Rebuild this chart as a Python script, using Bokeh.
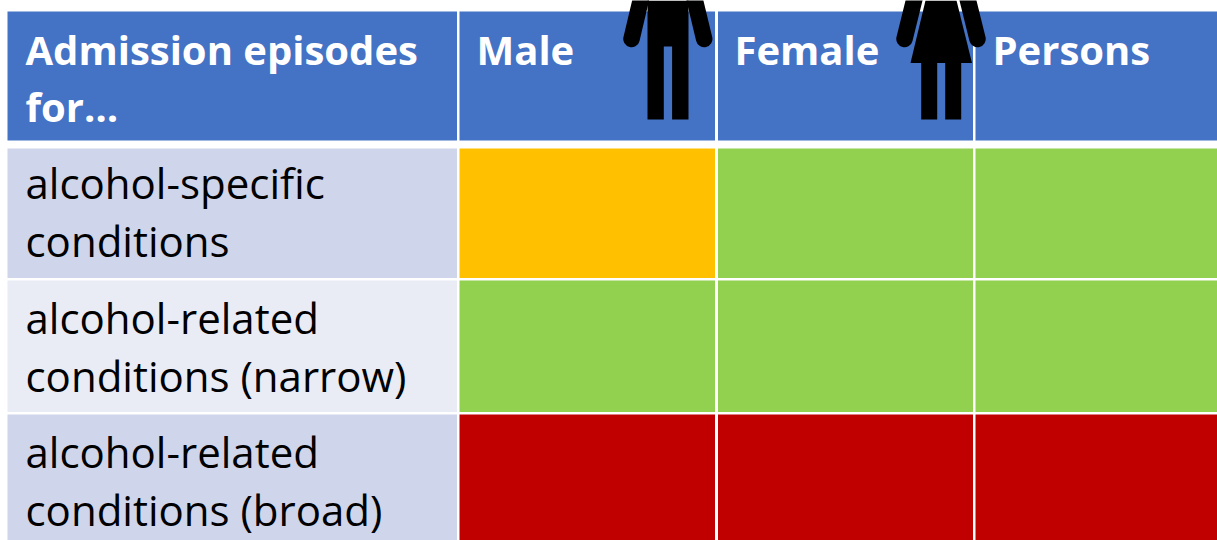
from bokeh.plotting import figure
from bokeh.models import Range1d
from bokeh.core.properties import value
from bokeh.embed import file_html
from bokeh.resources import INLINE

# Table content
header_labels = ["Admission episodes\nfor…", "Male", "Female", "Persons"]
row_labels = ["alcohol-specific\nconditions",
              "alcohol-related\nconditions (narrow)",
              "alcohol-related\nconditions (broad)"]
male_status = ["amber", "green", "red"]
female_status = ["green", "green", "red"]
persons_status = ["green", "green", "red"]

# Styles
STATUS_COLOURS = {"amber": "#FFC000", "green": "#92D050", "red": "#C00000"}
HEADER_COLOUR = "#4472C4"
BAND_COLOURS = ["#CFD5EA", "#E9EBF5", "#CFD5EA"]
FONT = value("Open Sans")

# Layout (page pixels)
COL_EDGES = [(7, 456.5), (459, 714.5), (717.5, 972.5), (975, 1217)]
HEADER_EDGES = (11, 140)
ROW_EDGES = [(148, 277.5), (280, 411.5), (414, 540)]
HEADER_MID = [49, 106]
ROW_MID = [[182, 240], [317, 375], [451, 509]]
TEXT_X = [25, 476, 734, 992]

p = figure(width=1217, height=540, x_range=Range1d(0, 1217), y_range=Range1d(540, 0),
           toolbar_location=None, output_backend="svg", min_border=0)
p.axis.visible = False
p.grid.visible = False
p.outline_line_color = None
p.background_fill_color = "white"
p.border_fill_color = "white"

# Header cells
p.quad(left=[c[0] for c in COL_EDGES], right=[c[1] for c in COL_EDGES],
       top=[HEADER_EDGES[0]] * 4, bottom=[HEADER_EDGES[1]] * 4,
       fill_color=HEADER_COLOUR, line_color=None)

# Row label cells
p.quad(left=[COL_EDGES[0][0]] * 3, right=[COL_EDGES[0][1]] * 3,
       top=[r[0] for r in ROW_EDGES], bottom=[r[1] for r in ROW_EDGES],
       fill_color=BAND_COLOURS, line_color=None)

# Status cells
for col, statuses in enumerate([male_status, female_status, persons_status], start=1):
    p.quad(left=[COL_EDGES[col][0]] * 3, right=[COL_EDGES[col][1]] * 3,
           top=[r[0] for r in ROW_EDGES], bottom=[r[1] for r in ROW_EDGES],
           fill_color=[STATUS_COLOURS[s] for s in statuses], line_color=None)

# Icons
ARM_WIDTH = 16.5
def arms(cx_top_l, cx_bot_l, cx_top_r, cx_bot_r):
    for xs in ([cx_top_l, cx_bot_l], [cx_top_r, cx_bot_r]):
        p.line(xs, [-8, 38.5], line_color="black", line_width=ARM_WIDTH, line_cap="round")

# Male
p.patch([647, 688, 688, 671.6, 671.6, 663.3, 663.3, 647],
        [0, 0, 119, 119, 46, 46, 119, 119], fill_color="black", line_color=None)
arms(642, 631, 692.5, 703.7)

# Female
p.patch([925, 956, 971.5, 910], [0, 0, 62.5, 62.5], fill_color="black", line_color=None)
p.quad(left=[920.7, 944.7], right=[936.7, 960.7], top=[62, 62], bottom=[119, 119],
       fill_color="black", line_color=None)
arms(915.5, 904, 965.5, 977)

# Header text
for lab, x in zip(header_labels, TEXT_X):
    for line, y in zip(lab.split("\n"), HEADER_MID):
        p.text([x], [y], text=[line], text_color="white", text_font=FONT,
               text_font_size="40px", text_font_style="bold", text_baseline="middle")

# Row text
for lab, ys in zip(row_labels, ROW_MID):
    for line, y in zip(lab.split("\n"), ys):
        p.text([TEXT_X[0]], [y], text=[line], text_color="black", text_font=FONT,
               text_font_size="42px", text_baseline="middle")

open("out.html", "w").write(file_html(p, INLINE))
